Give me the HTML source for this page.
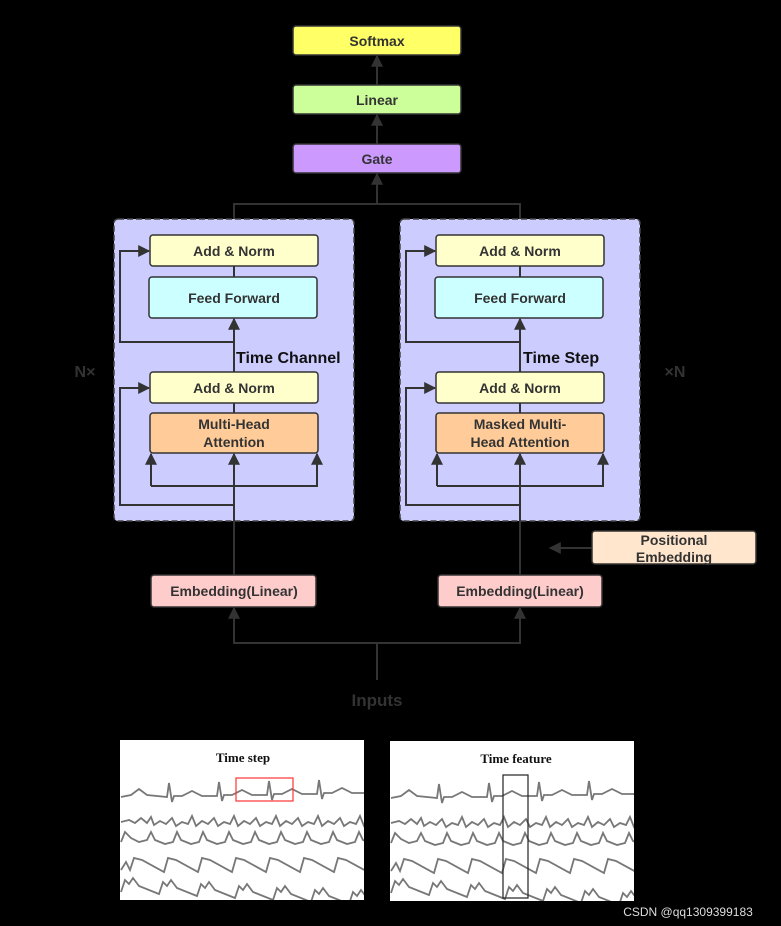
<!DOCTYPE html>
<html><head><meta charset="utf-8"><style>
html,body{margin:0;padding:0;background:#000;}
svg{display:block;}
text{font-family:"Liberation Sans","DejaVu Sans",sans-serif;font-weight:bold;}
</style></head><body>
<svg width="781" height="926" viewBox="0 0 781 926" xmlns="http://www.w3.org/2000/svg">
<defs>
<marker id="b" viewBox="0 0 10 10" refX="9" refY="5" markerWidth="14" markerHeight="12" orient="auto" markerUnits="userSpaceOnUse"><path d="M0,0 L10,5 L0,10 z" fill="#333"/></marker>
<clipPath id="c"><rect x="120" y="740" width="244" height="160"/></clipPath>
</defs>
<rect width="781" height="926" fill="#000"/>
<!-- top -->
<rect x="293" y="26" width="168" height="29" rx="3" fill="#ffff66" stroke="#333" stroke-width="1.5"/>
<text x="377" y="46" font-size="14" fill="#333" text-anchor="middle">Softmax</text>
<rect x="293" y="85" width="168" height="29" rx="3" fill="#ccff99" stroke="#333" stroke-width="1.5"/>
<text x="377" y="105" font-size="14" fill="#333" text-anchor="middle">Linear</text>
<rect x="293" y="144" width="168" height="29" rx="3" fill="#cc99ff" stroke="#333" stroke-width="1.5"/>
<text x="377" y="164" font-size="14" fill="#333" text-anchor="middle">Gate</text>
<g stroke="#333" stroke-width="2" fill="none">
<line x1="377" y1="85" x2="377" y2="56" marker-end="url(#b)"/>
<line x1="377" y1="144" x2="377" y2="115" marker-end="url(#b)"/>
<polyline points="234,235 234,204 520,204 520,235"/>
<line x1="377" y1="204" x2="377" y2="174" marker-end="url(#b)"/>
</g>
<!-- panels -->
<rect x="114" y="219" width="240" height="302" rx="4" fill="#ccccff" stroke="#444" stroke-width="1.5" stroke-dasharray="6,3"/>
<rect x="400" y="219" width="240" height="302" rx="4" fill="#ccccff" stroke="#444" stroke-width="1.5" stroke-dasharray="6,3"/>
<g id="L">
<g stroke="#333" stroke-width="2" fill="none">
<line x1="234" y1="575" x2="234" y2="454" marker-end="url(#b)"/>
<line x1="234" y1="413" x2="234" y2="403"/>
<line x1="234" y1="372" x2="234" y2="319" marker-end="url(#b)"/>
<line x1="234" y1="277" x2="234" y2="266"/>
<polyline points="234,505 120,505 120,388 149,388" marker-end="url(#b)"/>
<polyline points="234,342 120,342 120,251 149,251" marker-end="url(#b)"/>
<polyline points="151,486 151,454" marker-end="url(#b)"/>
<polyline points="151,486 317,486 317,454" marker-end="url(#b)"/>
</g>
<rect x="150" y="235" width="168" height="31" rx="3" fill="#ffffcc" stroke="#333" stroke-width="1.5"/>
<text x="234" y="256" font-size="14" fill="#333" text-anchor="middle">Add &amp; Norm</text>
<rect x="149" y="277" width="168" height="41" rx="3" fill="#ccffff" stroke="#333" stroke-width="1.5"/>
<text x="234" y="303" font-size="14" fill="#333" text-anchor="middle">Feed Forward</text>
<rect x="150" y="372" width="168" height="31" rx="3" fill="#ffffcc" stroke="#333" stroke-width="1.5"/>
<text x="234" y="393" font-size="14" fill="#333" text-anchor="middle">Add &amp; Norm</text>
<rect x="150" y="413" width="168" height="40" rx="3" fill="#ffcc99" stroke="#333" stroke-width="1.5"/>
</g>
<text x="234" y="429" font-size="14" fill="#333" text-anchor="middle">Multi-Head</text>
<text x="234" y="447" font-size="14" fill="#333" text-anchor="middle">Attention</text>
<text x="236" y="363" font-size="16" fill="#111">Time Channel</text>
<use href="#L" transform="translate(286,0)"/>
<text x="520" y="429" font-size="14" fill="#333" text-anchor="middle">Masked Multi-</text>
<text x="520" y="447" font-size="14" fill="#333" text-anchor="middle">Head Attention</text>
<text x="523" y="363" font-size="16" fill="#111">Time Step</text>
<text x="85" y="377" font-size="16" fill="#333" text-anchor="middle">N×</text>
<text x="675" y="377" font-size="16" fill="#333" text-anchor="middle">×N</text>
<!-- embeddings -->
<rect x="151" y="575" width="165" height="32" rx="3" fill="#ffcccc" stroke="#333" stroke-width="1.5"/>
<text x="234" y="596" font-size="14" fill="#333" text-anchor="middle">Embedding(Linear)</text>
<rect x="438" y="575" width="164" height="32" rx="3" fill="#ffcccc" stroke="#333" stroke-width="1.5"/>
<text x="520" y="596" font-size="14" fill="#333" text-anchor="middle">Embedding(Linear)</text>
<rect x="592" y="531" width="164" height="33" rx="3" fill="#ffe6cc" stroke="#333" stroke-width="1.5"/>
<text x="674" y="545" font-size="14" fill="#333" text-anchor="middle">Positional</text>
<text x="674" y="562" font-size="14" fill="#333" text-anchor="middle">Embedding</text>
<g stroke="#333" stroke-width="2" fill="none">
<line x1="592" y1="548" x2="550" y2="548" marker-end="url(#b)"/>
<polyline points="377,680 377,643"/>
<polyline points="377,643 234,643 234,608" marker-end="url(#b)"/>
<polyline points="377,643 520,643 520,608" marker-end="url(#b)"/>
</g>
<text x="377" y="706" font-size="17" fill="#333" text-anchor="middle">Inputs</text>
<!-- images -->
<g id="img">
<rect x="120" y="740" width="244" height="160" fill="#fff"/>
<g stroke="#777" stroke-width="1.8" fill="none" clip-path="url(#c)">
<path d="M121,797 l10,-2 l8,-6 l8,6 l20,2 l2,-14 l3,19 l2,-6 l8,0 l10,-5 l10,5 l15,0 l2,-14 l3,19 l2,-6 l8,0 l10,-5 l10,5 l15,0 l2,-14 l3,19 l2,-6 l8,0 l10,-5 l10,5 l15,0 l2,-14 l3,19 l2,-6 l8,0 l10,-5 l10,5 l15,0 l2,-14 l3,19 l2,-4 l10,0"/>
<path d="M121,822 l8,-2 l6,3 l6,-5 l6,5 l4,-6 l3,8 l6,-4 l6,3 l6,-6 l4,8 l6,-4 l6,2 l4,-8 l4,10 l6,-5 l6,3 l6,-6 l4,8 l6,-4 l6,2 l4,-8 l4,10 l6,-5 l6,3 l6,-6 l4,8 l6,-4 l6,2 l4,-8 l4,10 l6,-5 l6,3 l6,-6 l4,8 l6,-4 l6,2 l4,-8 l4,10 l6,-5 l6,3 l6,-6 l4,8 l6,-4 l6,2 l4,-8 l4,10 l6,-5 l6,3"/>
<path d="M121,842 l4,-10 l6,6 l8,4 l8,-2 l4,-8 l4,8 l10,4 l8,-2 l4,-10 l4,8 l10,4 l8,-2 l4,-10 l4,8 l10,4 l8,-2 l4,-10 l4,8 l10,4 l8,-2 l4,-10 l4,8 l10,4 l8,-2 l4,-10 l4,8 l10,4 l8,-2 l4,-10 l4,8 l10,4 l8,-2 l4,-10 l4,8 l10,4 l8,-2 l4,-10 l4,8 l10,4"/>
<path d="M121,870 l5,-8 l4,8 l4,-12 l8,2 l22,12 l4,-14 l8,2 l22,12 l4,-14 l8,2 l22,12 l4,-14 l8,2 l22,12 l4,-14 l8,2 l22,12 l4,-14 l8,2 l22,12 l4,-14 l8,2 l22,12"/>
<path d="M121,892 l4,-12 l4,4 l4,-6 l6,8 l20,8 l4,-12 l4,4 l4,-6 l6,8 l20,8 l4,-12 l4,4 l4,-6 l6,8 l20,8 l4,-12 l4,4 l4,-6 l6,8 l20,8 l4,-12 l4,4 l4,-6 l6,8 l20,8 l4,-12 l4,4 l4,-6 l6,8 l20,8 l4,-12 l4,4 l4,-6 l6,8 l20,8"/>
</g>
</g>
<text x="243" y="762" font-size="13" fill="#111" text-anchor="middle" style="font-family:'Liberation Serif',serif">Time step</text>
<rect x="236" y="778" width="57" height="23" fill="none" stroke="#f33" stroke-width="1.2"/>
<use href="#img" transform="translate(270,1)"/>
<text x="516" y="763" font-size="13" fill="#111" text-anchor="middle" style="font-family:'Liberation Serif',serif">Time feature</text>
<rect x="503" y="775" width="25" height="123" fill="none" stroke="#222" stroke-width="1.2"/>
<text x="688" y="916" font-size="12" fill="#ddd" text-anchor="middle" style="font-weight:normal">CSDN @qq1309399183</text>
</svg>
</body></html>
